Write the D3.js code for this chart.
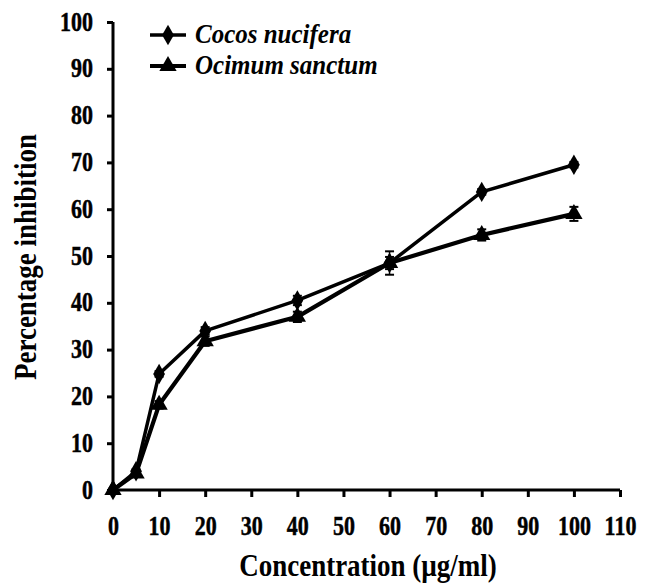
<!DOCTYPE html>
<html>
<head>
<meta charset="utf-8">
<script src="https://cdn.jsdelivr.net/npm/d3@7"></script>
<style>
  body { margin: 0; background: #fff; }
  text { font-family: "Liberation Serif", "Times New Roman", serif; font-weight: bold; fill: #000; }
</style>
</head>
<body>
<script>
// concentrations (ug/ml)
const conc = [0, 5, 10, 20, 40, 60, 80, 100];
const cocos = [0, 4, 24.8, 34, 40.5, 48.5, 63.7, 69.5];
const cocosErr = [0, 0.4, 0.6, 0.8, 1, 2.5, 0.6, 0.6];
const ocimum = [0, 3.5, 18.2, 31.8, 37, 48.5, 54.5, 59];
const ocimumErr = [0, 0.5, 0.8, 1, 1.1, 1.3, 1.2, 1.5];
const xTicks = [0, 10, 20, 30, 40, 50, 60, 70, 80, 90, 100, 110];
const yTicks = [0, 10, 20, 30, 40, 50, 60, 70, 80, 90, 100];

const width = 650, height = 585;
const svg = d3.select('body').append('svg')
    .attr('width', width)
    .attr('height', height);

const x = d3.scaleLinear().domain([0, 110]).range([113, 620]);
const y = d3.scaleLinear().domain([0, 100]).range([490, 22]);

// axes
const xAxis = svg.append('g')
    .attr('transform', 'translate(0,' + y(0) + ')')
    .call(d3.axisBottom(x).tickValues(xTicks).tickSize(7).tickSizeOuter(0));
const yAxis = svg.append('g')
    .attr('transform', 'translate(' + x(0) + ',0)')
    .call(d3.axisLeft(y).tickValues(yTicks).tickSize(6).tickSizeOuter(0));

[xAxis, yAxis].forEach(ax => {
    ax.attr('font-family', null).attr('font-size', null);
    ax.select('.domain').attr('stroke', '#000').attr('stroke-width', 3);
    ax.selectAll('.tick line').attr('stroke', '#000').attr('stroke-width', 3);
    ax.selectAll('.tick text').style('font-size', '22px')
        .attr('stroke', '#000').attr('stroke-width', 0.4);
});
xAxis.select('.domain').attr('d', 'M' + (x(0) - 1.5) + ',0H' + x(110));
yAxis.select('.domain').attr('d', 'M0,' + (y(0) + 1.5) + 'V' + y(100));
// labels are tall and narrow in the original
xAxis.selectAll('.tick text')
    .attr('y', null).attr('dy', null)
    .attr('transform', 'translate(0,45) scale(1,1.2)');
yAxis.selectAll('.tick text')
    .attr('x', null).attr('dy', null)
    .attr('transform', 'translate(-20,8) scale(1,1.2)');

svg.append('text')
    .attr('transform', 'translate(368,576) scale(1,1.15)')
    .attr('text-anchor', 'middle')
    .style('font-size', '27px')
    .text('Concentration (\u00b5g/ml)');

svg.append('text')
    .attr('transform', 'translate(36,257) rotate(-90) scale(1,1.15)')
    .attr('text-anchor', 'middle')
    .style('font-size', '27px')
    .text('Percentage inhibition');

const diamond = d3.symbol().type(d3.symbolDiamond).size(120);
const triangle = d3.symbol().type(d3.symbolTriangle).size(130);

function drawSeries(vals, errs, lw, sym) {
    const pts = conc.map((c, i) => ({ c: c, v: vals[i], e: errs[i] }));
    const g = svg.append('g');
    g.append('path')
        .datum(pts)
        .attr('fill', 'none')
        .attr('stroke', '#000')
        .attr('stroke-width', lw)
        .attr('stroke-linejoin', 'round')
        .attr('d', d3.line().x(d => x(d.c)).y(d => y(d.v)));

    const eb = g.selectAll('.err').data(pts.filter(d => d.e > 0)).enter().append('g');
    eb.append('line')
        .attr('x1', d => x(d.c)).attr('x2', d => x(d.c))
        .attr('y1', d => y(d.v + d.e)).attr('y2', d => y(d.v - d.e))
        .attr('stroke', '#000').attr('stroke-width', 1.5);
    eb.append('line')
        .attr('x1', d => x(d.c) - 4.5).attr('x2', d => x(d.c) + 4.5)
        .attr('y1', d => y(d.v + d.e)).attr('y2', d => y(d.v + d.e))
        .attr('stroke', '#000').attr('stroke-width', 2);
    eb.append('line')
        .attr('x1', d => x(d.c) - 4.5).attr('x2', d => x(d.c) + 4.5)
        .attr('y1', d => y(d.v - d.e)).attr('y2', d => y(d.v - d.e))
        .attr('stroke', '#000').attr('stroke-width', 2);

    g.selectAll('.pt').data(pts).enter().append('path')
        .attr('transform', d => 'translate(' + x(d.c) + ',' + y(d.v) + ')')
        .attr('d', sym())
        .attr('fill', '#000');
}

drawSeries(cocos, cocosErr, 3.5, diamond);
drawSeries(ocimum, ocimumErr, 4.2, triangle);

// legend
const legend = [
    { name: 'Cocos nucifera', sym: diamond, w: 3.5, y: 35 },
    { name: 'Ocimum sanctum', sym: triangle, w: 4.2, y: 66 }
];
const lg = svg.selectAll('.lg').data(legend).enter().append('g');
lg.append('line')
    .attr('x1', 150).attr('x2', 186)
    .attr('y1', d => d.y).attr('y2', d => d.y)
    .attr('stroke', '#000').attr('stroke-width', d => d.w);
lg.append('path')
    .attr('transform', d => 'translate(168,' + d.y + ')')
    .attr('d', d => d.sym())
    .attr('fill', '#000');
lg.append('text')
    .attr('transform', d => 'translate(195,' + (d.y + 8) + ') scale(1,1.1)')
    .style('font-size', '25px')
    .style('font-style', 'italic')
    .text(d => d.name);
</script>
</body>
</html>
